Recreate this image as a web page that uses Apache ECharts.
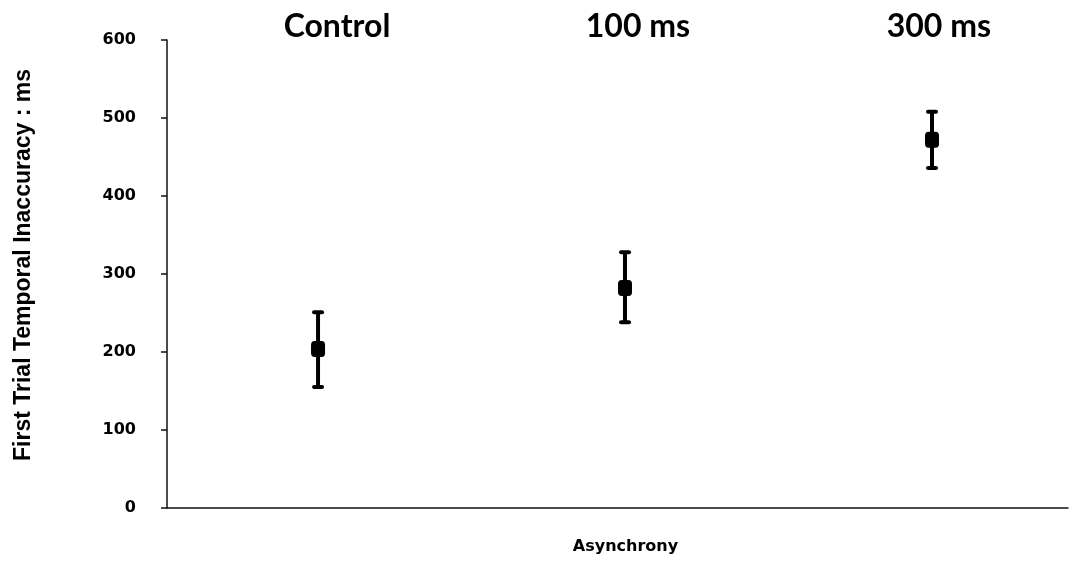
<!DOCTYPE html>
<html><head><meta charset="utf-8">
<script src="https://cdn.jsdelivr.net/npm/echarts@6/dist/echarts.min.js"></script>
<style>html,body{margin:0;padding:0;background:#fff}#c{width:1075px;height:562px}</style>
</head><body><div id="c"></div>
<script>
const categories = ['Control', '100 ms', '300 ms'];
const means = [204, 282, 472];
const upper = [251, 328, 508];
const lower = [155, 238, 436];
const yTicks = [0, 100, 200, 300, 400, 500, 600];

const xPos = categories.map((c, i) => i + 1);
const chart = echarts.init(document.getElementById('c'));
const XMIN = 0.508, XMAX = 3.443;
chart.setOption({
  backgroundColor: '#fff',
  animation: false,
  grid: {left: 167, right: 7, top: 40, bottom: 54},
  xAxis: [{
    type: 'value', min: XMIN, max: XMAX, position: 'bottom',
    name: 'Asynchrony', nameLocation: 'middle', nameGap: 31,
    nameTextStyle: {fontFamily: 'DejaVu Sans', fontWeight: 'bold', fontSize: 16, color: '#000', padding: [0, 0, 0, 16]},
    axisLine: {show: true, lineStyle: {color: '#111', width: 1.5}},
    axisTick: {show: false}, axisLabel: {show: false}, splitLine: {show: false}
  }, {
    type: 'value', min: 0.435, max: 3.429, position: 'top',
    axisLine: {show: false}, axisTick: {show: false}, splitLine: {show: false},
    axisLabel: {show: true, customValues: xPos, margin: -3,
      formatter: v => categories[Math.round(v) - 1] || '',
      fontFamily: 'Lato', fontWeight: 'bold', fontSize: 32, color: '#000'}
  }],
  yAxis: {
    type: 'value', min: 0, max: 600, interval: 100,
    name: 'First Trial Temporal Inaccuracy : ms', nameLocation: 'middle', nameGap: 132, nameRotate: 90,
    nameTextStyle: {fontFamily: 'Liberation Sans', fontWeight: 'bold', fontSize: 23, color: '#000', padding: [0, 0, 0, 18]},
    axisLine: {show: true, lineStyle: {color: '#111', width: 1.5}},
    axisTick: {show: true, length: 6, lineStyle: {color: '#111', width: 1.5}},
    axisLabel: {fontFamily: 'DejaVu Sans', fontWeight: 'bold', fontSize: 16, color: '#000', margin: 31},
    splitLine: {show: false}
  },
  series: [{
    type: 'custom',
    data: xPos.map((x, i) => [x, lower[i], upper[i]]),
    renderItem: (params, api) => {
      const lo = api.coord([api.value(0), api.value(1)]);
      const hi = api.coord([api.value(0), api.value(2)]);
      const cw = 4;
      return {type: 'group', children: [
        {type: 'line', shape: {x1: lo[0], y1: lo[1], x2: hi[0], y2: hi[1]}, style: {stroke: '#000', lineWidth: 4}},
        {type: 'line', shape: {x1: hi[0]-cw, y1: hi[1], x2: hi[0]+cw, y2: hi[1]}, style: {stroke: '#000', lineWidth: 4, lineCap: 'round'}},
        {type: 'line', shape: {x1: lo[0]-cw, y1: lo[1], x2: lo[0]+cw, y2: lo[1]}, style: {stroke: '#000', lineWidth: 4, lineCap: 'round'}}
      ]};
    },
    z: 2
  }, {
    type: 'scatter',
    data: xPos.map((x, i) => [x, means[i]]),
    symbol: 'roundRect', symbolSize: [14, 16],
    itemStyle: {color: '#000', opacity: 1},
    z: 3
  }]
});
</script></body></html>
